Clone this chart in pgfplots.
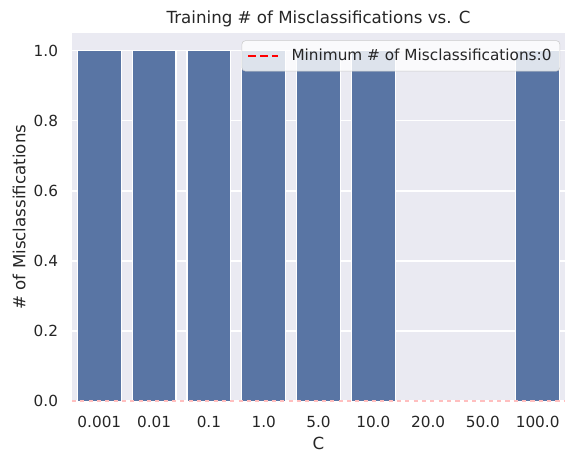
\documentclass[border=0pt]{standalone}
\usepackage{fontspec}
\setmainfont{DejaVu Sans}
\usepackage{pgfplots}
\pgfplotsset{compat=1.18}
\definecolor{sbbg}{HTML}{EAEAF2}
\definecolor{sbbar}{HTML}{5975A4}
\definecolor{sbtext}{HTML}{262626}
\begin{document}
\begin{tikzpicture}
\begin{axis}[
  scale only axis,
  width=355pt, height=265pt,
  xmin=-0.5, xmax=8.5,
  ymin=0, ymax=1.05,
  axis background/.style={fill=sbbg},
  axis line style={draw=none},
  major tick length=0pt,
  xtick={0,1,2,3,4,5,6,7,8},
  xticklabels={0.001,0.01,0.1,1.0,5.0,10.0,20.0,50.0,100.0},
  ytick={0,0.2,0.4,0.6,0.8,1.0},
  /pgf/number format/assume math mode=true,
  yticklabel={\pgfmathprintnumber[fixed,fixed zerofill,precision=1]{\tick}},
  ymajorgrids,
  grid style={white, line width=1pt},
  tick label style={font=\fontsize{11}{13}\selectfont, text=sbtext},
  yticklabel style={xshift=-6.5pt},
  xticklabel style={yshift=-7pt},
  xlabel={C},
  ylabel={\# of Misclassifications},
  label style={font=\fontsize{12}{14}\selectfont, text=sbtext},
  xlabel style={yshift=0pt},
  ylabel style={yshift=-1pt},
  title={Training \# of Misclassifications vs. C},
  title style={font=\fontsize{12}{14}\selectfont, text=sbtext, yshift=-5pt},
  legend style={at={(0.99,0.98)}, anchor=north east, fill=white, fill opacity=0.8, draw opacity=1, text opacity=1, draw=black!20, rounded corners=2.5pt, font=\fontsize{11}{13}\selectfont, text=sbtext, inner xsep=4pt, inner ysep=4pt, /tikz/every odd column/.append style={column sep=7pt}},
  legend cell align=left,
  legend image code/.code={\draw[#1] (0cm,0cm) -- (0.76cm,0cm);},
  set layers,
]
\addplot[ybar, bar width=0.8, fill=sbbar, draw=white, line width=0.8pt, forget plot]
  coordinates {(0,1) (1,1) (2,1) (3,1) (4,1) (5,1) (6,0) (7,0) (8,1)};
\addplot[red!25, dashed, line width=1.5pt, forget plot] coordinates {(-0.5,0) (8.5,0)};
\addlegendimage{red, line width=1.1pt, dash pattern=on 5.5pt off 3pt}
\addlegendentry{Minimum \# of Misclassifications:0}
\end{axis}
\path ([shift={(-51.8pt,-44.6pt)}]current axis.south west) rectangle ([shift={(8.6pt,23.8pt)}]current axis.north east);
\end{tikzpicture}
\end{document}
